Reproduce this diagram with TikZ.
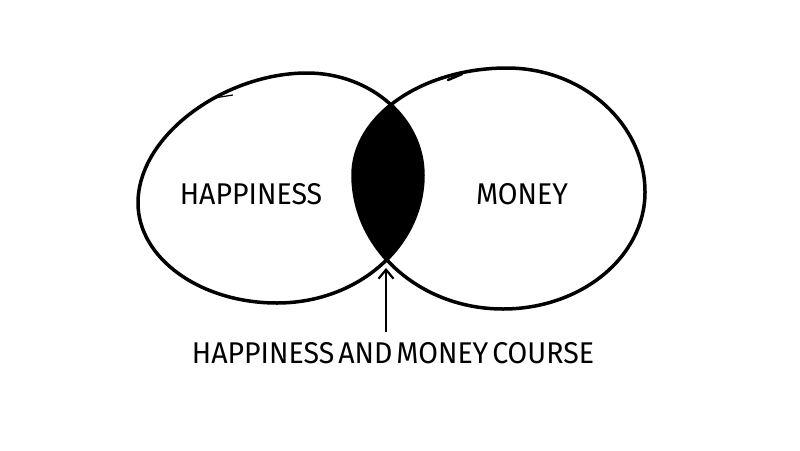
\documentclass[tikz,border=0pt]{standalone}
\usepackage{fontspec}
\setmainfont[FakeStretch=0.95]{Fira Sans}
\usetikzlibrary{arrows.meta}

\tikzset{
  blob/.style={line width=3.5pt, line join=round},
  lbl/.style={font=\fontsize{30}{32}\selectfont, inner sep=2pt},
  arr/.style={-{Straight Barb[length=9pt,width=15pt,line width=2.2pt]}, line width=2.3pt, shorten >=5pt, shorten <=8pt}
}
% the two hand-drawn sets
\newcommand{\happyset}{(138,203) .. controls (138,135) and (225,73) .. (307,73)
  .. controls (371,73) and (423,119) .. (423,175)
  .. controls (423,246) and (358,303) .. (277,303)
  .. controls (200,303) and (138,258) .. (138,203) -- cycle}
\newcommand{\moneyset}{(353,175) .. controls (353,116) and (422,68) .. (507,68)
  .. controls (583,68) and (645,124) .. (645,192)
  .. controls (645,257) and (581,309) .. (503,309)
  .. controls (420,309) and (353,249) .. (353,175) -- cycle}

\begin{document}
\begin{tikzpicture}[x=1pt,y=-1pt]
  \useasboundingbox (0,0) rectangle (800,450);
  % overlap
  \begin{scope}
    \clip \happyset;
    \fill \moneyset;
  \end{scope}
  \draw[blob] \happyset;
  \draw[blob] \moneyset;
  % pen overlaps
  \draw[line width=1.2pt] (214,98) -- (233,95);
  \draw[line width=2.6pt, line cap=round] (448,80) -- (462,74);

  \coordinate (bot) at (386,263);
  \node[lbl] (happy) at (251,194) {HAPPINESS};
  \node[lbl] (money) at (522,194) {MONEY};
  \node[lbl] (course) at (393,353) {\spaceskip=4pt HAPPINESS AND MONEY COURSE};
  \draw[arr] (course.north -| bot) -- (bot);
\end{tikzpicture}
\end{document}
